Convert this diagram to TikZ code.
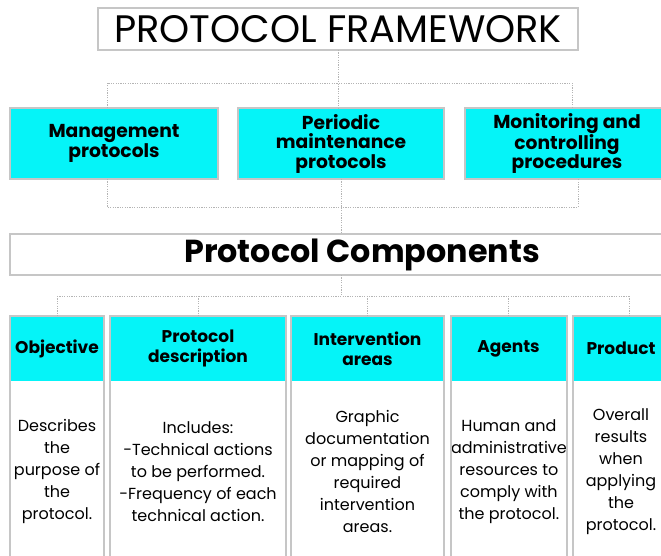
\documentclass[tikz,border=0pt]{standalone}
\usepackage{fontspec}
\setmainfont{Poppins}
\usetikzlibrary{calc}
\definecolor{boxcyan}{HTML}{05F4F8}
\definecolor{boxedge}{HTML}{C6C6C6}
\definecolor{linkgray}{HTML}{B4B4B4}
\begin{document}
\begin{tikzpicture}[x=1pt,y=-1pt,
  box/.style={anchor=north west,inner sep=0pt,outer sep=0pt,align=center},
  edge/.style={draw=boxedge,line width=1.6pt},
  link/.style={draw=linkgray,line width=0.8pt,dash pattern=on 1.2pt off 1.2pt},
  toprow/.style={box,fill=boxcyan,edge,minimum height=71,
    font=\bfseries\fontsize{18.7}{19.5}\selectfont},
  colhead/.style={box,fill=boxcyan,minimum height=65,
    font=\bfseries\fontsize{17}{20}\selectfont},
  colbody/.style={box,fill=white,minimum height=181,
    font=\fontsize{16}{22}\selectfont},
]
\useasboundingbox (0,0) rectangle (661,556);
\clip (0,0) rectangle (661,556);

% framework title
\node[box,edge,fill=white,minimum width=480,minimum height=42,
  font=\fontsize{38.3}{40}\selectfont] (title) at (98,8) {PROTOCOL FRAMEWORK};

% three protocol families
\node[toprow,minimum width=208] (r1a) at (10,108) {Management\\protocols};
\node[toprow,minimum width=206] (r1b) at (238,108) {Periodic\\maintenance\\protocols};
\node[toprow,minimum width=204] (r1c) at (465,108) {Monitoring and\\controlling\\procedures};

% components banner
\node[box,edge,fill=white,minimum width=704,minimum height=41,
  font=\bfseries\fontsize{31.8}{34}\selectfont] (comp) at (10,234) {Protocol Components};

% component columns: cyan heading over a white description
\node[colhead,minimum width=94]  (h1) at (10,316)  {Objective};
\node[colbody,minimum width=94]  (b1) at (10,381)  {Describes\\the\\purpose of\\the\\protocol.};
\node[colhead,minimum width=176] (h2) at (110,316) {Protocol\\description};
\node[colbody,minimum width=176] (b2) at (110,381) {Includes:\\-Technical actions\\to be performed.\\-Frequency of each\\technical action.};
\node[colhead,minimum width=153] (h3) at (291,316) {Intervention\\areas};
\node[colbody,minimum width=153] (b3) at (291,381) {Graphic\\documentation\\or mapping of\\required\\intervention\\areas.};
\node[colhead,minimum width=115] (h4) at (451,316) {Agents};
\node[colbody,minimum width=115] (b4) at (451,381) {Human and\\administrative\\resources to\\comply with\\the protocol.};
\node[colhead,minimum width=96]  (h5) at (573,316) {Product};
\node[colbody,minimum width=96]  (b5) at (573,381) {Overall\\results\\when\\applying\\the\\protocol.};
\foreach \i in {1,...,5}{
  \draw[edge] (h\i.north west) rectangle (b\i.south east);
}

% dotted links: title to families
\coordinate (ja) at (107,83);
\coordinate (jc) at (572,83);
\draw[link] (title.south) -- (title.south |- r1b.north);
\draw[link] (ja |- r1a.north) -- (ja) -- (jc) -- (jc |- r1c.north);

% families to components banner
\coordinate (ka) at (107,207);
\coordinate (kb) at (341,207);
\coordinate (kc) at (578,207);
\draw[link] (ka |- r1a.south) -- (ka) -- (kc) -- (kc |- r1c.south);
\draw[link] (kb |- r1b.south) -- (kb |- comp.north);

% banner to columns
\coordinate (mb) at (341,296);
\coordinate (p5) at ($(h5.north)+(8,0)$);
\draw[link] (kb |- comp.south) -- (mb);
\draw[link] (h1.north |- mb) -- (p5 |- mb);
\foreach \i in {1,...,4}{
  \draw[link] (h\i.north |- mb) -- (h\i.north);
}
\draw[link] (p5 |- mb) -- (p5);
\end{tikzpicture}
\end{document}
